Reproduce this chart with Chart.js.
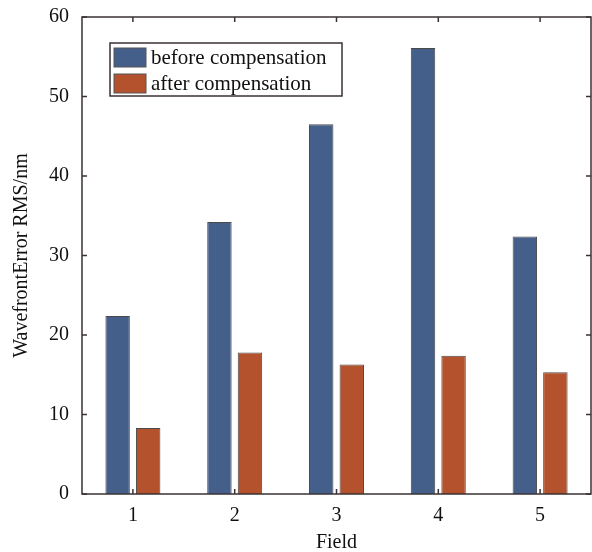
<!DOCTYPE html>
<html>
<head>
<meta charset="utf-8">
<script src="https://cdn.jsdelivr.net/npm/chart.js@4/dist/chart.umd.min.js"></script>
<style>
  html, body { margin: 0; padding: 0; background: #fff; }
  #wrap { width: 592px; height: 552px; }
</style>
</head>
<body>
<div id="wrap"><canvas id="chart" width="592" height="552"></canvas></div>
<script>
// data
const fields = ['1', '2', '3', '4', '5'];
const beforeComp = [22.4, 34.2, 46.5, 56.1, 32.4];
const afterComp = [8.3, 17.8, 16.3, 17.4, 15.3];
const yTicks = [0, 10, 20, 30, 40, 50, 60];

const serif = "'Liberation Serif', 'Times New Roman', serif";
const axisColor = '#3a3232';

// box round the plot with inward ticks, like MATLAB
const framePlugin = {
  id: 'frame',
  afterDatasetsDraw(chart) {
    const { ctx, chartArea: a, scales } = chart;
    ctx.save();
    ctx.strokeStyle = axisColor;
    ctx.lineWidth = 1.5;
    ctx.strokeRect(a.left, a.top, a.right - a.left, a.bottom - a.top);
    const len = 5;
    ctx.beginPath();
    yTicks.forEach((v) => {
      const y = scales.y.getPixelForValue(v);
      ctx.moveTo(a.left, y); ctx.lineTo(a.left + len, y);
      ctx.moveTo(a.right, y); ctx.lineTo(a.right - len, y);
    });
    fields.forEach((f, i) => {
      const x = scales.x.getPixelForValue(i);
      ctx.moveTo(x, a.bottom); ctx.lineTo(x, a.bottom - len);
      ctx.moveTo(x, a.top); ctx.lineTo(x, a.top + len);
    });
    ctx.stroke();
    ctx.restore();
  },
};

// legend box inside the plot, top left
const legendPlugin = {
  id: 'boxLegend',
  afterDraw(chart) {
    const { ctx } = chart;
    const x0 = 110, y0 = 43, w = 232, h = 53;
    ctx.save();
    ctx.fillStyle = '#fff';
    ctx.fillRect(x0, y0, w, h);
    ctx.strokeStyle = axisColor;
    ctx.lineWidth = 1.5;
    ctx.strokeRect(x0, y0, w, h);
    ctx.font = '21px ' + serif;
    ctx.textBaseline = 'middle';
    chart.data.datasets.forEach((ds, i) => {
      const sy = y0 + 5 + i * 26;
      ctx.fillStyle = ds.backgroundColor;
      ctx.fillRect(x0 + 4, sy, 32, 19);
      ctx.strokeStyle = '#555';
      ctx.lineWidth = 1;
      ctx.strokeRect(x0 + 4, sy, 32, 19);
      ctx.fillStyle = '#111';
      ctx.fillText(ds.label, x0 + 41, sy + 10);
    });
    ctx.restore();
  },
};

new Chart(document.getElementById('chart'), {
  type: 'bar',
  data: {
    labels: fields,
    datasets: [
      {
        label: 'before compensation',
        data: beforeComp,
        backgroundColor: '#445f8a',
        borderColor: '#4a4a4a',
        borderWidth: 1,
      },
      {
        label: 'after compensation',
        data: afterComp,
        backgroundColor: '#b5522e',
        borderColor: '#4a4a4a',
        borderWidth: 1,
      },
    ],
  },
  options: {
    responsive: false,
    animation: false,
    layout: { padding: { left: 0, top: 17, right: 1, bottom: 0 } },
    datasets: { bar: { categoryPercentage: 0.6, barPercentage: 0.8 } },
    plugins: { legend: { display: false }, tooltip: { enabled: false } },
    scales: {
      x: {
        grid: { display: false, drawTicks: false },
        border: { display: false },
        ticks: { color: '#111', font: { family: serif, size: 20 }, padding: 10 },
        title: { display: true, text: 'Field', color: '#111', font: { family: serif, size: 20 }, padding: { top: 0, bottom: -3 } },
        afterFit(scale) { scale.height = 58; scale.paddingLeft = 0; scale.paddingRight = 0; },
      },
      y: {
        min: 0,
        max: 60,
        grid: { display: false, drawTicks: false },
        border: { display: false },
        ticks: { stepSize: 10, color: '#111', font: { family: serif, size: 20 }, padding: 13 },
        title: { display: true, text: 'WavefrontError RMS/nm', color: '#111', font: { family: serif, size: 20 }, padding: { top: 10, bottom: 0 } },
        afterFit(scale) { scale.width = 82; scale.paddingTop = 0; scale.paddingBottom = 0; },
      },
    },
  },
  plugins: [framePlugin, legendPlugin],
});
</script>
</body>
</html>
